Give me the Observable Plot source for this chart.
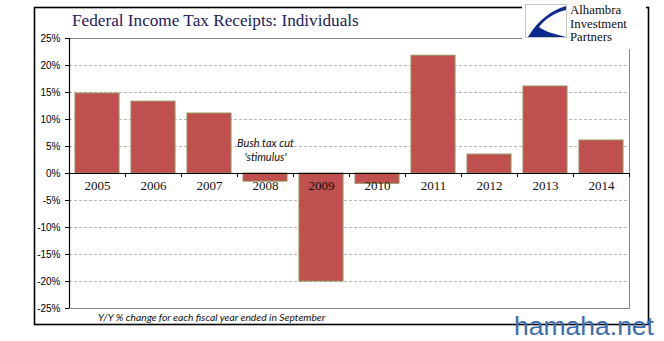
<!DOCTYPE html>
<html>
<head>
<meta charset="utf-8">
<script src="https://cdn.jsdelivr.net/npm/d3@7"></script>
<script src="https://cdn.jsdelivr.net/npm/@observablehq/plot@0.6"></script>
<style>
  html, body { margin: 0; padding: 0; background: #fff; overflow: hidden; }
  #wrap { position: relative; width: 664px; height: 341px; background: #fff; }
  #wrap svg.plot { position: absolute; left: 0; top: 0; }
  .title { position: absolute; left: 72px; top: 11px; font-family: "Liberation Serif", "Times New Roman", serif; font-size: 17.2px; color: #1b1b5e; white-space: nowrap; }
  .logo-line { position: absolute; left: 570px; font-family: "Liberation Serif", serif; font-size: 12.8px; line-height: 14px; color: #111; white-space: nowrap; }
  .caption { position: absolute; left: 98px; top: 311px; font-family: Lato, "Open Sans", sans-serif; font-style: italic; font-size: 10.3px; color: #111; white-space: nowrap; }
  .wm { position: absolute; left: 514px; top: 312px; font-family: "Liberation Sans", Arial, sans-serif; font-size: 26.5px; line-height: 28px; color: #3d6db0; white-space: nowrap; }
</style>
</head>
<body>
<div id="wrap"></div>
<script>
const years = ["2005","2006","2007","2008","2009","2010","2011","2012","2013","2014"];
const values = [14.8, 13.3, 11.1, -1.5, -20.0, -1.9, 21.8, 3.5, 16.1, 6.1];
const yTicks = [-25, -20, -15, -10, -5, 0, 5, 10, 15, 20, 25];
const gridTicks = [-20, -15, -10, -5, 5, 10, 15, 20];
const titleText = "Federal Income Tax Receipts: Individuals";
const captionText = "Y/Y % change for each fiscal year ended in September";
const annotation = "Bush tax cut\n'stimulus'";
const annotationYear = "2008";
const annotationY = 4.4;
const logoLines = ["Alhambra", "Investment", "Partners"];
const watermark = "hamaha.net";

const data = years.map((y, i) => ({year: y, value: values[i]}));

const chart = Plot.plot({
  width: 664,
  height: 341,
  marginLeft: 69,
  marginRight: 35,
  marginTop: 38,
  marginBottom: 33,
  x: {domain: years, paddingInner: 0.21, paddingOuter: 0.105, axis: null},
  y: {domain: [-25, 25], axis: null},
  marks: [
    Plot.ruleY(gridTicks, {stroke: "#a6a6a6", strokeDasharray: "3,2", strokeWidth: 0.8}),
    Plot.frame({stroke: "#888", strokeWidth: 1}),
    Plot.barY(data, {x: "year", y: "value", fill: "#c0504d", stroke: "#948a54", strokeWidth: 1}),
    Plot.ruleY([0], {stroke: "#000", strokeWidth: 1.2}),
    Plot.ruleX(years, {x: d => d, dx: -28, y1: 0, y2: -0.75, stroke: "#000", strokeWidth: 1}),
    Plot.ruleX([years[years.length - 1]], {x: d => d, dx: 28, y1: 0, y2: -0.75, stroke: "#000", strokeWidth: 1}),
    Plot.ruleX([years[0]], {x: d => d, dx: -28, y1: -25, y2: 25, stroke: "#000", strokeWidth: 1.2}),
    Plot.axisY({ticks: yTicks, label: null, tickFormat: d => d + "%", tickSize: 4, tickPadding: 5, fontSize: 10, fontFamily: "Liberation Sans, Arial, sans-serif", stroke: "#000"}),
    Plot.text(years, {x: d => d, y: 0, dy: 12, text: d => d, fontFamily: "Liberation Serif, Times New Roman, serif", fontSize: 13, fill: "#111"}),
    Plot.text([annotation], {x: () => annotationYear, y: () => annotationY, text: d => d, fontStyle: "italic", fontSize: 11, lineHeight: 1.3, fontFamily: "Lato, Open Sans, sans-serif", fill: "#111"})
  ]
});
chart.classList.add("plot");

// decorations drawn into the chart's own SVG: outer border and logo box
const svg = d3.select(chart);
svg.append("rect")
  .attr("x", 34.5).attr("y", 7.5).attr("width", 614).attr("height", 317)
  .attr("fill", "none").attr("stroke", "#000").attr("stroke-width", 1.6);
svg.append("rect")
  .attr("x", 522).attr("y", 2).attr("width", 124).attr("height", 47).attr("fill", "#fff");
const lg = svg.append("g").attr("transform", "translate(525,4)");
lg.append("rect").attr("x", 0.5).attr("y", 0.5).attr("width", 41).attr("height", 33)
  .attr("fill", "#fff").attr("stroke", "#c8c8c8");
lg.append("path").attr("d", "M41,2 C27,6 13,16 3,33 L41,33 C29,30 19,27 14,23 C21,14 31,8 41,6 Z")
  .attr("fill", "#0d2a8e");

const wrap = document.getElementById("wrap");
wrap.appendChild(chart);

const title = document.createElement("div"); title.className = "title"; title.textContent = titleText; wrap.appendChild(title);

logoLines.forEach((t, i) => {
  const l = document.createElement("div");
  l.className = "logo-line";
  l.style.top = (3 + i * 13.5) + "px";
  l.textContent = t;
  wrap.appendChild(l);
});

const cap = document.createElement("div"); cap.className = "caption"; cap.textContent = captionText; wrap.appendChild(cap);
const wm = document.createElement("div"); wm.className = "wm"; wm.textContent = watermark; wrap.appendChild(wm);
</script>
</body>
</html>
